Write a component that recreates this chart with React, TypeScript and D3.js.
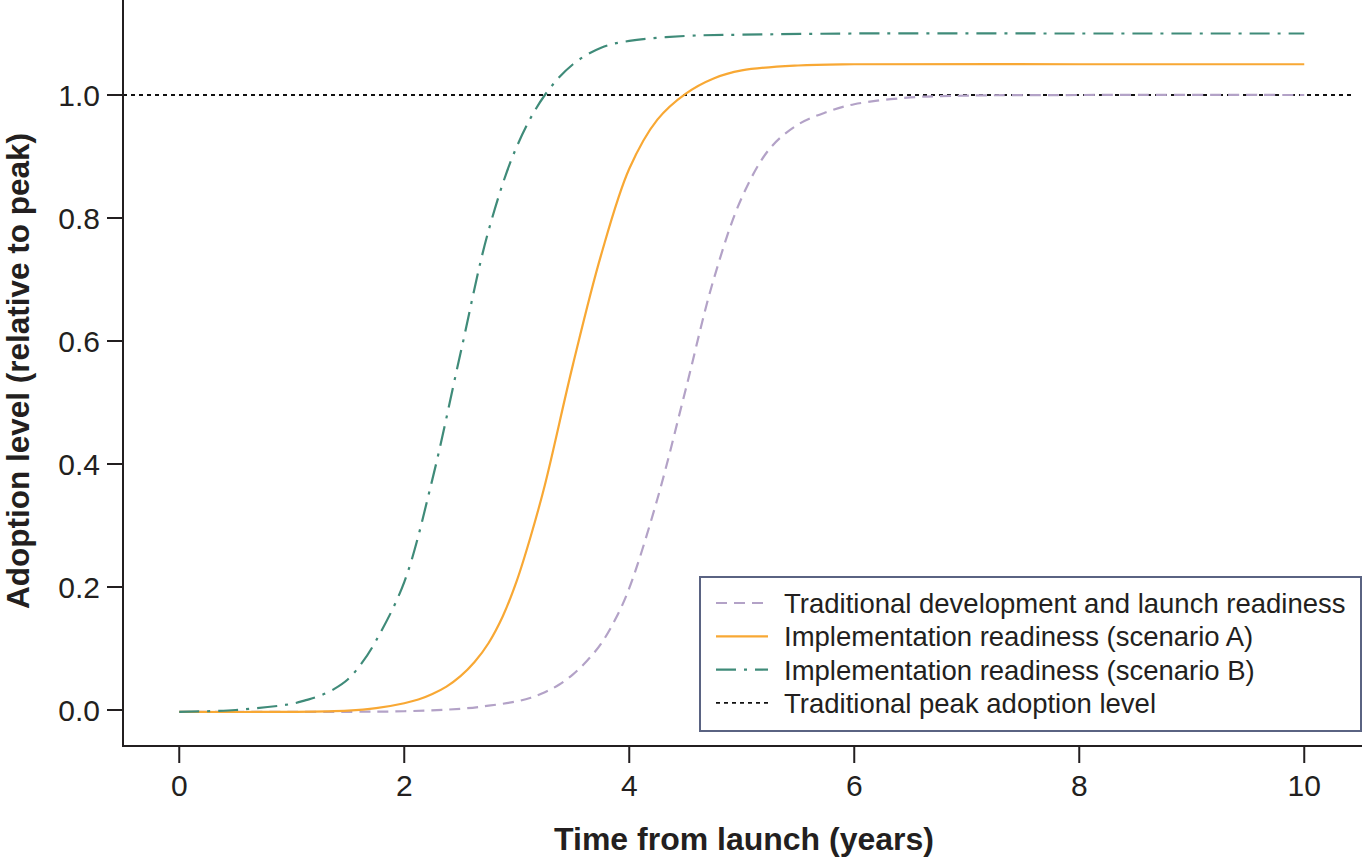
import * as d3 from 'd3';

// Adoption curves, [years since launch, adoption relative to traditional peak]
const traditional: [number, number][] = [
  [0, -0.003], [1, -0.003], [2, -0.002], [2.5, 0.002], [2.75, 0.007], [3, 0.014],
  [3.125, 0.02], [3.25, 0.029], [3.375, 0.041], [3.5, 0.058], [3.625, 0.08], [3.75, 0.108],
  [3.875, 0.147], [4, 0.198], [4.25, 0.343], [4.5, 0.52], [4.75, 0.7], [5, 0.833],
  [5.25, 0.913], [5.5, 0.952], [5.75, 0.972], [6, 0.985], [6.5, 0.996], [7, 0.999],
  [8, 1.0], [10, 1.0],
];

const scenarioA: [number, number][] = [
  [0, -0.003], [1, -0.003], [1.5, -0.001], [1.75, 0.003], [2, 0.011], [2.125, 0.017],
  [2.25, 0.026], [2.375, 0.038], [2.5, 0.055], [2.625, 0.078], [2.75, 0.109],
  [2.875, 0.152], [3, 0.21], [3.125, 0.283], [3.25, 0.366], [3.5, 0.562], [3.75, 0.74],
  [4, 0.88], [4.25, 0.96], [4.5, 1.002], [4.75, 1.027], [5, 1.04], [5.5, 1.048],
  [6, 1.05], [8, 1.05], [10, 1.05],
];

const scenarioB: [number, number][] = [
  [0, -0.003], [0.5, 0.0], [1, 0.01], [1.125, 0.016], [1.25, 0.023], [1.375, 0.034],
  [1.5, 0.05], [1.625, 0.077], [1.75, 0.113], [2, 0.208], [2.25, 0.375], [2.5, 0.58],
  [2.75, 0.78], [3, 0.916], [3.25, 1.0], [3.5, 1.05], [3.75, 1.077], [4, 1.088],
  [4.5, 1.096], [5, 1.098], [6, 1.1], [8, 1.1], [10, 1.1],
];

const peakLevel = 1.0;
const peakSpan = [-0.5, 10.45];

const xTicks = [0, 2, 4, 6, 8, 10];
const yTicks = [0, 0.2, 0.4, 0.6, 0.8, 1.0];

const legendLabels = [
  'Traditional development and launch readiness',
  'Implementation readiness (scenario A)',
  'Implementation readiness (scenario B)',
  'Traditional peak adoption level',
];

const W = 1364;
const H = 859;
const FONT = '"Liberation Sans", Arial, Helvetica, sans-serif';
const INK = '#231f20';

const styles = [
  { color: '#b3a2c7', dash: '11 7', width: 2.2 },
  { color: '#f8a834', dash: 'none', width: 2.2 },
  { color: '#3f8b79', dash: '20 8 3 8', width: 2.2 },
  { color: '#111111', dash: '4 4', width: 1.8 },
];

export default function App() {
  const x = d3.scaleLinear().domain([-0.5, 10.5]).range([123, 1360.5]);
  const y = d3.scaleLinear().domain([0, 1]).range([710, 95]);

  const line = d3
    .line<[number, number]>()
    .x((d) => x(d[0]))
    .y((d) => y(d[1]))
    .curve(d3.curveCatmullRom.alpha(0.5));

  const axisBottom = 746;
  const series = [traditional, scenarioA, scenarioB];

  const legend = { x: 700, y: 577, w: 661, h: 154 };
  const rowY = (i: number) => 603 + i * 33.3;

  return (
    <svg
      width={W}
      height={H}
      style={{ position: 'absolute', left: 0, top: 0, display: 'block', background: '#fff' }}
    >
      {/* reference peak */}
      <line
        x1={x(peakSpan[0])}
        x2={x(peakSpan[1])}
        y1={y(peakLevel)}
        y2={y(peakLevel)}
        stroke={styles[3].color}
        strokeWidth={styles[3].width}
        strokeDasharray={styles[3].dash}
      />

      {/* curves, drawn back to front */}
      {series.map((s, i) => (
        <path
          key={i}
          d={line(s) ?? ''}
          fill="none"
          stroke={styles[i].color}
          strokeWidth={styles[i].width}
          strokeDasharray={styles[i].dash}
        />
      ))}

      {/* axes */}
      <line x1={123} x2={123} y1={0} y2={axisBottom + 1} stroke={INK} strokeWidth={2} />
      <line x1={122} x2={1362} y1={axisBottom} y2={axisBottom} stroke={INK} strokeWidth={2} />

      {yTicks.map((t) => (
        <g key={t}>
          <line x1={107} x2={123} y1={y(t)} y2={y(t)} stroke={INK} strokeWidth={2} />
          <text
            x={100}
            y={y(t) + 11}
            textAnchor="end"
            fontFamily={FONT}
            fontSize={30}
            fill={INK}
          >
            {t.toFixed(1)}
          </text>
        </g>
      ))}

      {xTicks.map((t) => (
        <g key={t}>
          <line x1={x(t)} x2={x(t)} y1={axisBottom} y2={763} stroke={INK} strokeWidth={2} />
          <text
            x={x(t)}
            y={796}
            textAnchor="middle"
            fontFamily={FONT}
            fontSize={30}
            fill={INK}
          >
            {t}
          </text>
        </g>
      ))}

      <text
        x={744}
        y={850}
        textAnchor="middle"
        fontFamily={FONT}
        fontSize={32}
        fontWeight="bold"
        fill={INK}
      >
        Time from launch (years)
      </text>
      <text
        transform="translate(29,371) rotate(-90)"
        textAnchor="middle"
        fontFamily={FONT}
        fontSize={31.5}
        fontWeight="bold"
        fill={INK}
      >
        Adoption level (relative to peak)
      </text>

      {/* legend */}
      <rect
        x={legend.x}
        y={legend.y}
        width={legend.w}
        height={legend.h}
        fill="#fff"
        stroke="#5a6382"
        strokeWidth={2}
      />
      {legendLabels.map((label, i) => (
        <g key={label}>
          <line
            x1={716}
            x2={768}
            y1={rowY(i)}
            y2={rowY(i)}
            stroke={styles[i].color}
            strokeWidth={styles[i].width}
            strokeDasharray={styles[i].dash}
          />
          <text
            x={784}
            y={rowY(i) + 10}
            fontFamily={FONT}
            fontSize={27.5}
            fill={INK}
          >
            {label}
          </text>
        </g>
      ))}
    </svg>
  );
}
